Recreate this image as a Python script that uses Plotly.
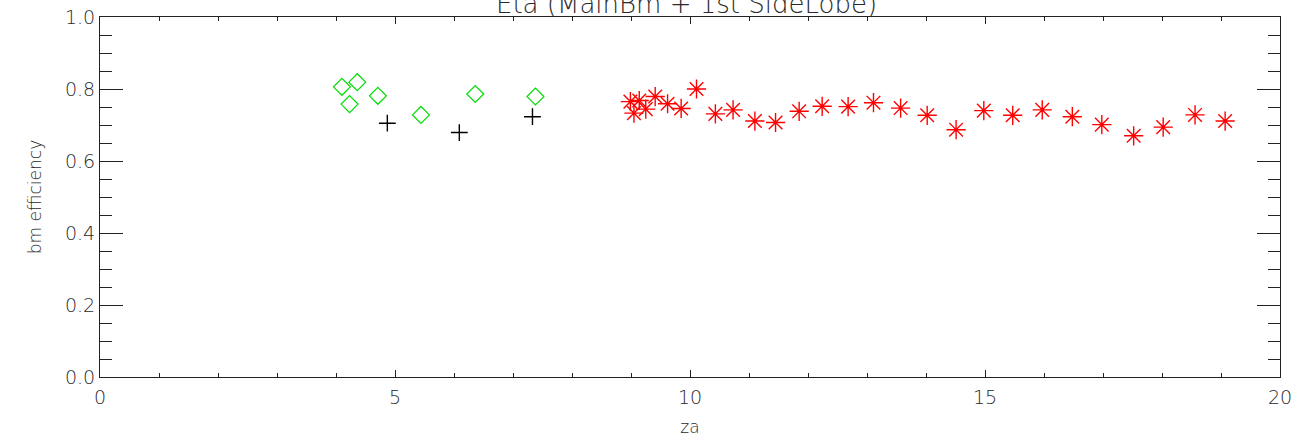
import plotly.graph_objects as go

# --- data ---
diamond_za = [4.10, 4.36, 4.23, 4.71, 5.44, 6.36, 7.38]
diamond_eff = [0.806, 0.819, 0.758, 0.781, 0.728, 0.786, 0.779]

plus_za = [4.87, 6.09, 7.33]
plus_eff = [0.705, 0.679, 0.723]

star_za = [8.99, 9.05, 9.14, 9.25, 9.41, 9.62, 9.85, 10.11, 10.43, 10.73, 11.10,
           11.45, 11.85, 12.24, 12.68, 13.11, 13.57, 14.02, 14.51, 14.98, 15.47,
           15.97, 16.48, 16.98, 17.52, 18.02, 18.56, 19.07]
star_eff = [0.765, 0.733, 0.768, 0.744, 0.779, 0.759, 0.746, 0.800, 0.731, 0.742,
            0.711, 0.707, 0.738, 0.752, 0.751, 0.762, 0.747, 0.727, 0.687, 0.740,
            0.727, 0.742, 0.723, 0.701, 0.670, 0.694, 0.728, 0.711]

title_text = "Eta (MainBm + 1st SideLobe)"
x_title = "za"
y_title = "bm efficiency"

FONT = "DejaVu Sans"
TXT = "#2a2a2a"
fig = go.Figure()
fig.add_trace(go.Scatter(x=diamond_za, y=diamond_eff, mode="markers",
                         marker=dict(symbol="diamond-open", size=13, color="#00dd00",
                                     line=dict(width=1.2, color="#00dd00"))))
fig.add_trace(go.Scatter(x=plus_za, y=plus_eff, mode="markers",
                         marker=dict(symbol="cross-thin-open", size=12, color="black",
                                     line=dict(width=1.4, color="black"))))
fig.add_trace(go.Scatter(x=star_za, y=star_eff, mode="markers",
                         marker=dict(symbol="asterisk-open", size=16, color="#ff0000",
                                     line=dict(width=1.4, color="#ff0000"))))

axis_common = dict(showline=True, linecolor="#222", linewidth=1, mirror="allticks",
                   ticks="inside", tickcolor="#222", showgrid=False, zeroline=False,
                   automargin=False,
                   tickfont=dict(family=FONT, size=19, color=TXT, weight=200))

fig.update_layout(
    width=1307, height=444,
    margin=dict(l=100, r=27, t=17, b=67),
    paper_bgcolor="white", plot_bgcolor="white",
    showlegend=False,
    font=dict(family=FONT, size=19, color=TXT, weight=200),
    xaxis=dict(range=[0, 20], dtick=5, ticklen=7, tickwidth=1, ticklabelstandoff=3,
               minor=dict(dtick=1, ticks="inside", ticklen=4, tickcolor="#222"),
               title=dict(text=x_title, standoff=14,
                          font=dict(family=FONT, size=17, color=TXT, weight=200)),
               **axis_common),
    yaxis=dict(range=[0, 1.0], dtick=0.2, tickformat=".1f", ticklen=23, tickwidth=1,
               minor=dict(dtick=0.05, ticks="inside", ticklen=12, tickcolor="#222"),
               title=dict(text=y_title, standoff=19,
                          font=dict(family=FONT, size=17, color=TXT, weight=200)),
               **axis_common),
    annotations=[dict(text=title_text, xref="paper", yref="paper", x=0.5, y=1,
                      xshift=-4, yshift=13, yanchor="middle", showarrow=False,
                      font=dict(family=FONT, size=26, color=TXT, weight=200))],
)

fig.write_html("out.html", config={"displayModeBar": False},
               post_script="document.body.style.margin='0';")
